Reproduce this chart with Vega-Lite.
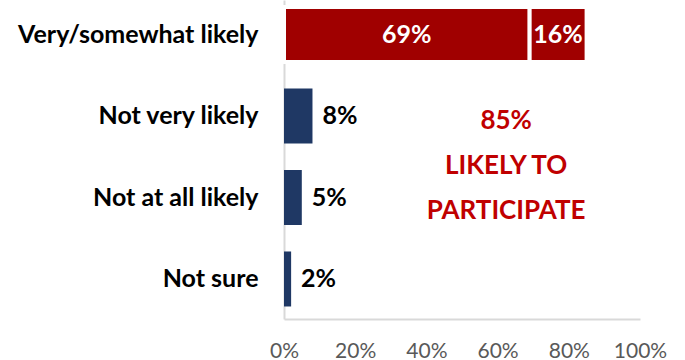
{
  "$schema": "https://vega.github.io/schema/vega-lite/v6.json",
  "width": 356,
  "height": 319,
  "autosize": "none",
  "padding": {"left": 284, "top": 0, "right": 45, "bottom": 41},
  "config": {"view": {"stroke": null}, "font": "Lato"},
  "datasets": {
    "bars": [
      {"cat": "Very/somewhat likely", "part": "Very likely", "start": 0, "end": 69, "label": "69%", "group": "likely"},
      {"cat": "Very/somewhat likely", "part": "Somewhat likely", "start": 69, "end": 85, "label": "16%", "group": "likely"},
      {"cat": "Not very likely", "part": "Not very likely", "start": 0, "end": 8, "label": "8%", "group": "unlikely"},
      {"cat": "Not at all likely", "part": "Not at all likely", "start": 0, "end": 5, "label": "5%", "group": "unlikely"},
      {"cat": "Not sure", "part": "Not sure", "start": 0, "end": 2, "label": "2%", "group": "unlikely"}
    ],
    "note": [
      {"cat": "Not at all likely", "x": 62.4, "text": ["85%", "LIKELY TO", "PARTICIPATE"]}
    ]
  },
  "encoding": {
    "y": {
      "field": "cat",
      "type": "nominal",
      "sort": ["Very/somewhat likely", "Not very likely", "Not at all likely", "Not sure"],
      "scale": {"domain": ["Very/somewhat likely", "Not very likely", "Not at all likely", "Not sure"], "paddingInner": 0.325, "paddingOuter": 0.12, "align": 0.36},
      "axis": {
        "title": null,
        "ticks": false,
        "domainColor": "#d9d9d9",
        "domainWidth": 2,
        "labelFont": "Lato",
        "labelFontWeight": "bold",
        "labelFontSize": 25,
        "labelColor": "#000000",
        "labelPadding": 26,
        "labelLimit": 300
      }
    }
  },
  "layer": [
    {
      "data": {"name": "bars"},
      "mark": {"type": "bar", "stroke": "white", "strokeWidth": 0},
      "encoding": {
        "x": {
          "field": "start",
          "type": "quantitative",
          "scale": {"domain": [0, 100], "nice": false, "zero": true},
          "axis": {
            "title": null,
            "values": [0, 20, 40, 60, 80, 100],
            "labelExpr": "datum.value + '%'",
            "grid": false,
            "ticks": false,
            "domainColor": "#d9d9d9",
            "domainWidth": 2,
            "labelColor": "#595959",
            "labelFont": "Lato",
            "labelFontSize": 21,
            "labelPadding": 21,
            "labelFlush": false
          }
        },
        "x2": {"field": "end"},
        "color": {
          "field": "group",
          "type": "nominal",
          "scale": {"domain": ["likely", "unlikely"], "range": ["#A00000", "#1F3864"]},
          "legend": null
        },
        "strokeWidth": {
          "field": "group",
          "type": "nominal",
          "scale": {"domain": ["likely", "unlikely"], "range": [4, 0]},
          "legend": null
        }
      }
    },
    {
      "data": {"name": "bars"},
      "transform": [
        {"filter": "datum.group == 'likely'"},
        {"calculate": "(datum.start + datum.end) / 2", "as": "mid"}
      ],
      "mark": {"type": "text", "font": "Lato", "fontWeight": "bold", "fontSize": 25, "color": "white", "align": "center", "baseline": "middle"},
      "encoding": {
        "x": {"field": "mid", "type": "quantitative"},
        "text": {"field": "label"}
      }
    },
    {
      "data": {"name": "bars"},
      "transform": [{"filter": "datum.group == 'unlikely'"}],
      "mark": {"type": "text", "font": "Lato", "fontWeight": "bold", "fontSize": 25, "color": "#000000", "align": "left", "baseline": "middle", "dx": 10},
      "encoding": {
        "x": {"field": "end", "type": "quantitative"},
        "text": {"field": "label"}
      }
    },
    {
      "data": {"name": "note"},
      "mark": {"type": "text", "font": "Lato", "fontWeight": "bold", "fontSize": 26, "color": "#C00000", "align": "center", "baseline": "middle", "lineHeight": 45, "dy": -77},
      "encoding": {
        "x": {"field": "x", "type": "quantitative"},
        "text": {"field": "text"}
      }
    }
  ]
}
